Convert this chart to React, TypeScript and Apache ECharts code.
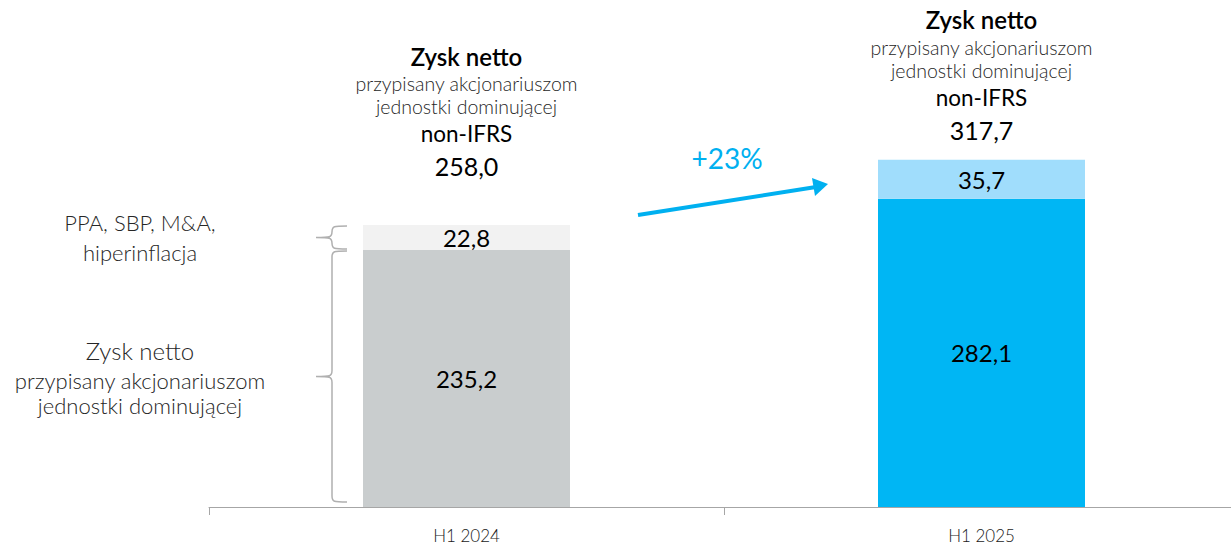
import React, { useEffect, useRef } from "react";
import * as echarts from "echarts";

const categories = ["H1 2024", "H1 2025"];
const baseValues = [235.2, 282.1];
const adjValues = [22.8, 35.7];
const totalLabels = ["258,0", "317,7"];
const baseLabels = ["235,2", "282,1"];
const adjLabels = ["22,8", "35,7"];
const growthLabel = "+23%";

const FONT = "Lato, 'Open Sans', sans-serif";

export default function App() {
  const ref = useRef<HTMLDivElement>(null);
  useEffect(() => {
    const chart = echarts.init(ref.current!, null, { renderer: "svg" });
    const rich = {
      t: { fontFamily: FONT, fontSize: 24, fontWeight: 600, color: "#000", lineHeight: 32 },
      s: { fontFamily: FONT, fontSize: 19.5, fontWeight: 300, color: "#262626", lineHeight: 23 },
      n: { fontFamily: FONT, fontSize: 22.5, fontWeight: "normal", color: "#000", lineHeight: 31 },
      v: { fontFamily: FONT, fontSize: 25, fontWeight: "normal", color: "#000", lineHeight: 34 },
    };
    const distances = [42, 13];
    const option: any = {
      animation: false,
      grid: { left: 209, width: 1030, top: 69.8, height: 437.2, outerBoundsMode: "none" },
      xAxis: {
        type: "category",
        data: categories,
        axisLine: { lineStyle: { color: "#A6A6A6", width: 1 } },
        axisTick: { show: true, length: 8, lineStyle: { color: "#A6A6A6" } },
        axisLabel: { fontFamily: FONT, fontSize: 17, fontWeight: 300, color: "#1a1a1a", margin: 20 },
      },
      yAxis: {
        type: "value",
        min: 0,
        max: 400,
        show: false,
        splitLine: { show: false },
      },
      series: [
        {
          type: "bar",
          stack: "s",
          barWidth: 207,
          data: baseValues.map((v, i) => ({
            value: v,
            itemStyle: { color: i === 0 ? "#C9CDCE" : "#00B6F4" },
          })),
          label: {
            show: true,
            position: "inside",
            fontFamily: FONT,
            fontSize: 24,
            color: "#000",
            formatter: (p: any) => baseLabels[p.dataIndex],
          },
        },
        {
          type: "bar",
          stack: "s",
          barWidth: 207,
          data: adjValues.map((v, i) => ({
            value: v,
            itemStyle: { color: i === 0 ? "#F2F2F2" : "#A0DDFC" },
          })),
          label: {
            show: true,
            position: "inside",
            fontFamily: FONT,
            fontSize: 24,
            color: "#000",
            formatter: (p: any) => adjLabels[p.dataIndex],
          },
        },
        {
          type: "bar",
          stack: "s",
          barWidth: 207,
          data: adjValues.map((v, i) => ({
            value: 0,
            label: { distance: distances[i] },
          })),
          itemStyle: { color: "transparent" },
          label: {
            show: true,
            position: "top",
            rich,
            formatter: (p: any) =>
              "{t|Zysk netto}\n{s|przypisany akcjonariuszom}\n{s|jednostki dominującej}\n{n|non-IFRS}\n{v|" +
              totalLabels[p.dataIndex] +
              "}",
          },
        },
      ],
    };
    chart.setOption(option);

    const yTop = chart.convertToPixel({ yAxisIndex: 0 }, baseValues[0] + adjValues[0]) as number;
    const yMid = chart.convertToPixel({ yAxisIndex: 0 }, baseValues[0]) as number;
    const yBot = chart.convertToPixel({ yAxisIndex: 0 }, 0) as number;

    const brace = (a: number, b: number) => {
      const m = (a + b) / 2;
      const xr = 347, xm = 332, xl = 316;
      const r = Math.min(6, (b - a) / 4);
      return (
        `M${xr} ${a + 1} C${xm + 2} ${a + 1} ${xm} ${a + 1} ${xm} ${a + r + 1} ` +
        `L${xm} ${m - r} C${xm} ${m} ${xm - 2} ${m} ${xl} ${m} ` +
        `C${xm - 2} ${m} ${xm} ${m} ${xm} ${m + r} ` +
        `L${xm} ${b - r - 1} C${xm} ${b - 1} ${xm + 2} ${b - 1} ${xr} ${b - 1}`
      );
    };
    echarts.graphic.registerShape("braceSmall", echarts.graphic.extendPath(brace(yTop, yMid), {}) as any);
    echarts.graphic.registerShape("braceLarge", echarts.graphic.extendPath(brace(yMid, yBot - 4), {}) as any);

    const sideStyle = { fontFamily: FONT, fill: "#262626", textAlign: "center", textVerticalAlign: "middle" };
    chart.setOption({
      graphic: [
        { type: "braceSmall", x: 0, y: 0, style: { fill: null, stroke: "#B0B0B0", lineWidth: 1.5 } },
        { type: "braceLarge", x: 0, y: 0, style: { fill: null, stroke: "#B0B0B0", lineWidth: 1.5 } },
        { type: "text", x: 140, y: 222, style: { ...sideStyle, text: "PPA, SBP, M&A,", fontSize: 22, fontWeight: 300 } },
        { type: "text", x: 140, y: 252, style: { ...sideStyle, text: "hiperinflacja", fontSize: 22, fontWeight: 300 } },
        { type: "text", x: 140, y: 350, style: { ...sideStyle, text: "Zysk netto", fontSize: 24, fontWeight: 300 } },
        { type: "text", x: 140, y: 380, style: { ...sideStyle, text: "przypisany akcjonariuszom", fontSize: 22, fontWeight: 300 } },
        { type: "text", x: 140, y: 405, style: { ...sideStyle, text: "jednostki dominującej", fontSize: 22, fontWeight: 300 } },
        { type: "text", x: 727, y: 158, style: { ...sideStyle, text: growthLabel, fontSize: 28, fontWeight: 400, fill: "#00B0F0" } },
        { type: "line", shape: { x1: 638, y1: 215, x2: 816, y2: 187 }, style: { stroke: "#00B0F0", lineWidth: 4 } },
        { type: "polygon", shape: { points: [[828, 184], [812, 178], [815, 196]] }, style: { fill: "#00B0F0" } },
      ],
    });
    return () => chart.dispose();
  }, []);
  return (
    <div
      ref={ref}
      style={{ position: "fixed", left: 0, top: 0, width: 1231, height: 545, background: "#fff" }}
    />
  );
}
